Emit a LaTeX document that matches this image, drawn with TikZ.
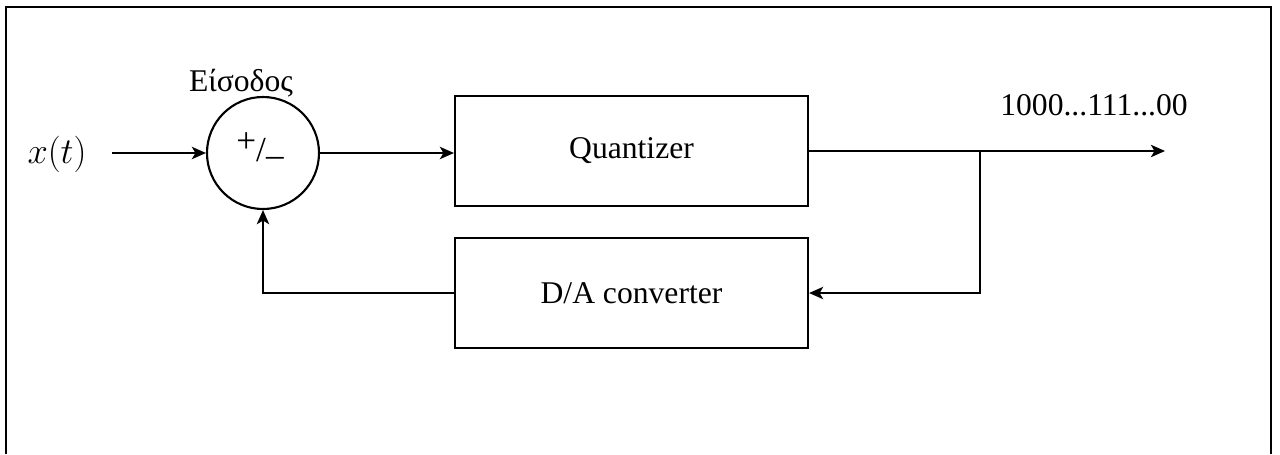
\documentclass[tikz,border=0pt]{standalone}
\usepackage{fontspec}
\setmainfont{Liberation Serif}
\usetikzlibrary{arrows.meta}
\begin{document}
\begin{tikzpicture}[x=0.02cm,y=-0.02cm,
  line width=1.2pt,
  sig/.style={-{Stealth[length=8pt,width=7pt,inset=2pt]}},
  blk/.style={draw,line width=1.2pt,minimum width=353*0.02cm,minimum height=110*0.02cm,inner sep=0pt,font=\fontsize{18}{21}\selectfont},
  lbl/.style={font=\fontsize{18}{21}\selectfont,inner sep=0pt}]
\useasboundingbox (0,0) rectangle (1280,454);
\draw (6,454) -- (6,7) -- (1271,7) -- (1271,454);
\node[lbl,font=\fontsize{21}{24}\selectfont] (x) at (57,154) {$x(t)$};
\coordinate (xin) at (112,153);
\node[draw,circle,minimum size=112*0.02cm,inner sep=0pt,line width=1.2pt] (sum) at (263,153) {};
\node[lbl,font=\fontsize{20}{24}\selectfont] (pm) at (260,150) {\raisebox{5pt}{+}/\raisebox{-3pt}{–}};
\node[lbl] (eis) at (241,83) {Είσοδος};
\node[blk] (q) at (631.5,151) {Quantizer};
\node[blk] (da) at (631.5,293) {D/A converter};
\coordinate (out) at (1165,151);
\coordinate (br) at (980,151);
\coordinate (brd) at (980,293);
\coordinate (fb) at (263,293);
\node[lbl] (bits) at (1094,105) {1000...111...00};
\draw[sig] (xin) -- (sum.west);
\draw[sig] (sum.east) -- (sum.east -| q.west);
\draw[sig] (q.east) -- (out);
\draw[sig] (br) -- (brd) -- (da.east);
\draw[sig] (da.west) -- (fb) -- (sum.south);
\end{tikzpicture}
\end{document}
